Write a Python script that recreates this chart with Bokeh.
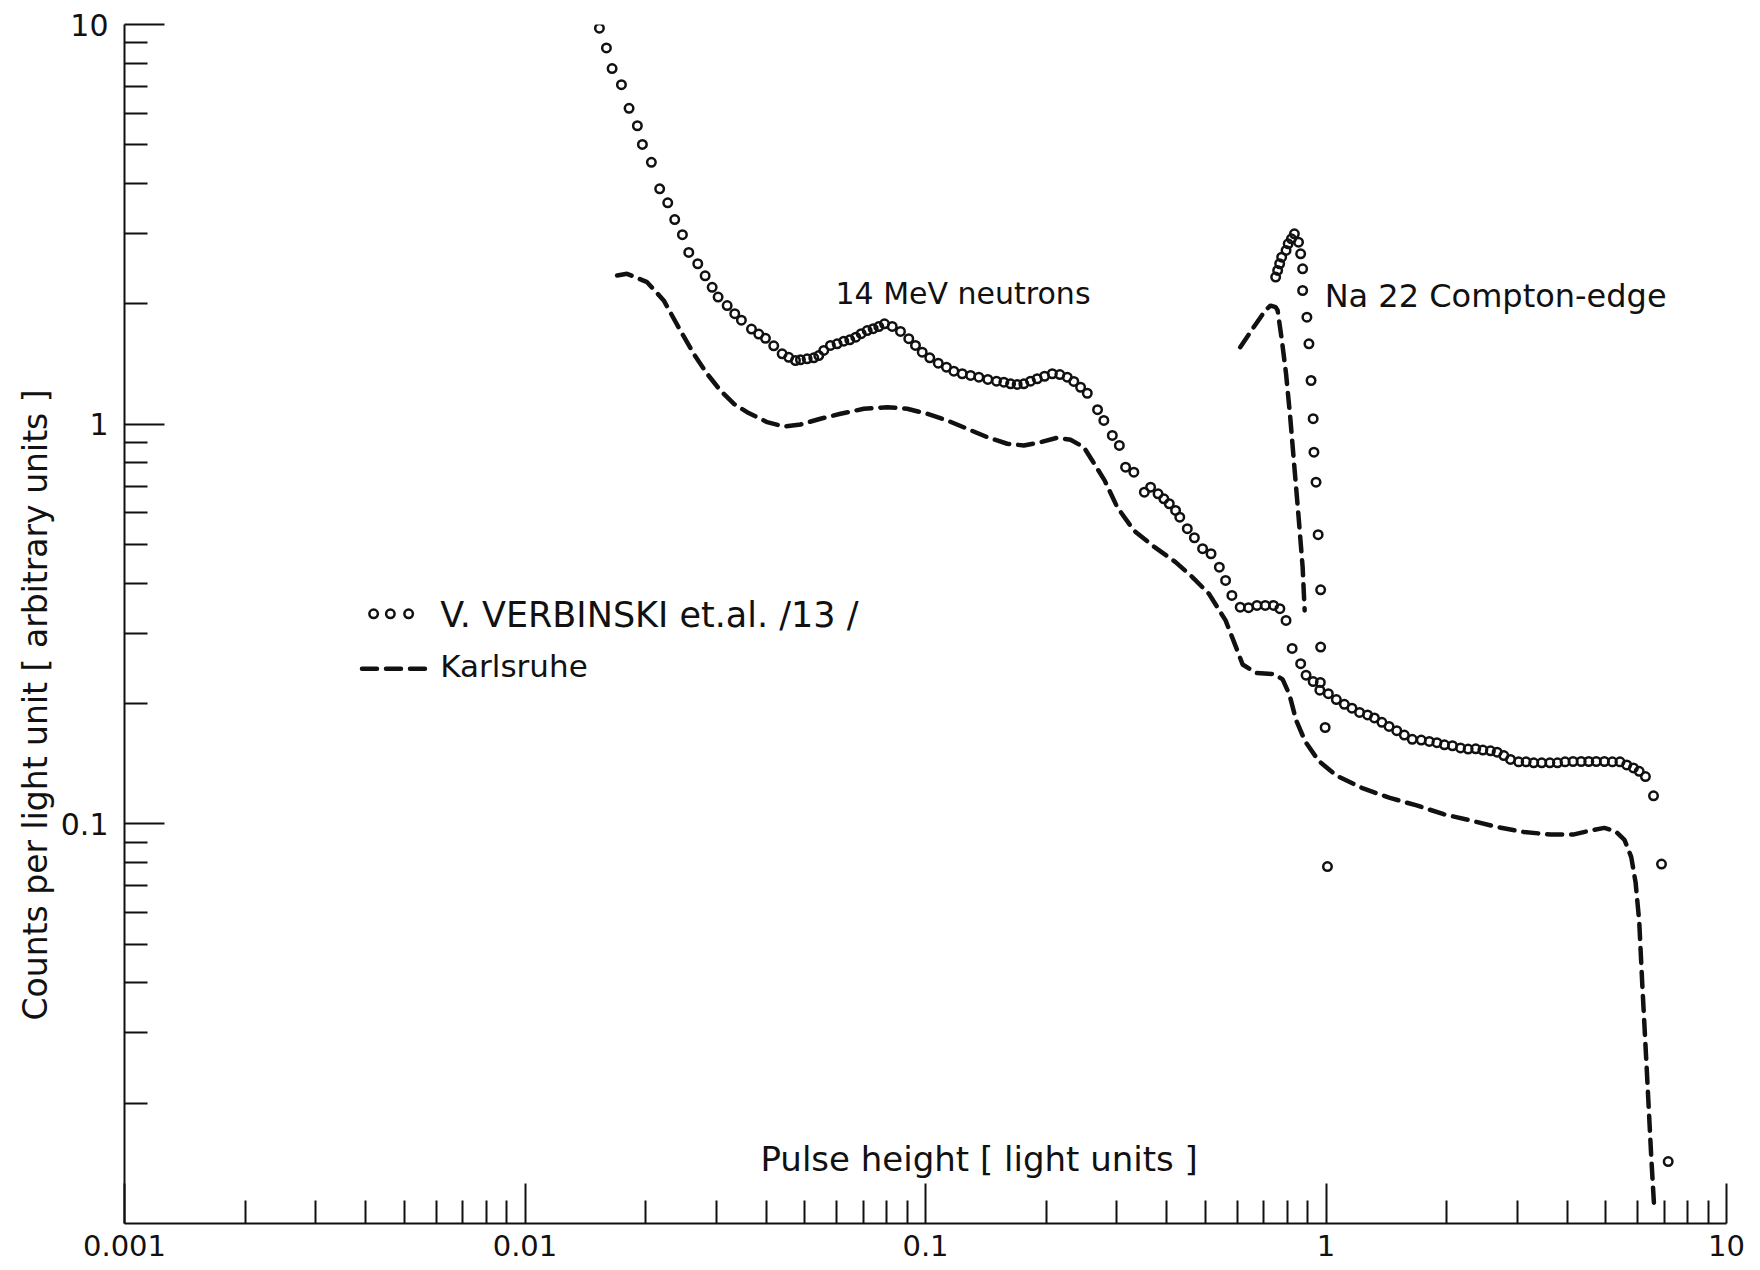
from bokeh.embed import file_html
from bokeh.models import CustomJSTickFormatter, FixedTicker, Label, Range1d, Title
from bokeh.plotting import figure
from bokeh.resources import INLINE

FONT = "DejaVu Sans"
INK = "#111111"

# V. Verbinski et al. /13/ - 14 MeV neutron pulse-height spectrum (open circles)
verb_x = [
    0.01534, 0.01597, 0.0165, 0.01741, 0.01819, 0.01908, 0.01964, 0.02068, 0.02169, 0.02272,
    0.02365, 0.02472, 0.02564, 0.0270, 0.02817, 0.02933, 0.03035, 0.03197, 0.0334, 0.0347,
    0.03677, 0.03834, 0.03985, 0.04179, 0.04386, 0.04555, 0.04735, 0.04873, 0.05064, 0.0526,
    0.05414, 0.05572, 0.05789, 0.06016, 0.0625, 0.0647, 0.06697, 0.06909, 0.07152, 0.07403,
    0.07645, 0.07899,
    0.08258, 0.0866, 0.09083, 0.09441, 0.09812, 0.1025, 0.1076, 0.1128, 0.1177, 0.1235,
    0.1296, 0.1359, 0.1431, 0.1504, 0.1569, 0.1631, 0.1694, 0.1760, 0.1829, 0.1901,
    0.1983, 0.2073, 0.2165, 0.2259, 0.2346, 0.2439, 0.2535,
    0.2689, 0.2788, 0.2927, 0.3048, 0.3159, 0.3313, 0.3519, 0.3648, 0.3808, 0.3937,
    0.4062, 0.4211, 0.4314, 0.4505, 0.4692, 0.4919, 0.5163, 0.5416, 0.5614, 0.5821,
    0.6106, 0.6406, 0.6724, 0.7052, 0.7396, 0.7670, 0.7947, 0.8232, 0.8644, 0.8917,
    0.9288, 0.9679, 0.9652,
    1.0136, 1.0613, 1.1115, 1.161, 1.213, 1.270, 1.321, 1.379, 1.437, 1.502,
    1.569, 1.642, 1.729, 1.811, 1.892, 1.976, 2.069, 2.167, 2.264, 2.365,
    2.464, 2.574, 2.675, 2.780, 2.889, 3.027, 3.160, 3.301, 3.457, 3.622,
    3.784, 3.953, 4.139, 4.336, 4.530, 4.729, 4.955, 5.188, 5.420, 5.634,
    5.856, 6.054, 6.274, 6.573, 6.882, 7.152,
]
verb_y = [
    9.79, 8.74, 7.76, 7.07, 6.17, 5.58, 5.01, 4.52, 3.88, 3.58,
    3.25, 2.98, 2.69, 2.52, 2.35, 2.20, 2.08, 1.98, 1.89, 1.82,
    1.73, 1.68, 1.64, 1.57, 1.50, 1.47, 1.443, 1.449, 1.457, 1.466,
    1.485, 1.529, 1.574, 1.589, 1.613, 1.626, 1.651, 1.684, 1.715, 1.733,
    1.755, 1.783,
    1.756, 1.706, 1.636, 1.574, 1.514, 1.466, 1.421, 1.389, 1.357, 1.337,
    1.324, 1.311, 1.294, 1.281, 1.274, 1.262, 1.257, 1.262, 1.281, 1.299,
    1.318, 1.337, 1.331, 1.311, 1.279, 1.237, 1.195,
    1.087, 1.022, 0.937, 0.8845, 0.7806, 0.7584, 0.6758, 0.6955, 0.6696, 0.6505,
    0.6322, 0.6084, 0.5853, 0.5475, 0.5198, 0.4879, 0.4740, 0.4387, 0.4064, 0.3727,
    0.3485, 0.3473, 0.3520, 0.3520, 0.3520, 0.3453, 0.3228, 0.2747, 0.2516, 0.2354,
    0.2269, 0.2258, 0.2160,
    0.2117, 0.2046, 0.1991, 0.1947, 0.1900, 0.1873, 0.1841, 0.1795, 0.1753, 0.1710,
    0.1668, 0.1627, 0.1620, 0.1608, 0.1596, 0.1577, 0.1568, 0.1549, 0.1538, 0.1541,
    0.1530, 0.1523, 0.1511, 0.1482, 0.1449, 0.1429, 0.1429, 0.1421, 0.1421, 0.1421,
    0.1421, 0.1429, 0.1432, 0.1432, 0.1432, 0.1432, 0.1432, 0.1429, 0.1429, 0.1404,
    0.1380, 0.1353, 0.1313, 0.1175, 0.0793, 0.01429,
]

# Na 22 Compton-edge calibration peak, same data set
na_x = [
    0.7487, 0.7573, 0.7661, 0.7750, 0.7948, 0.8045, 0.8198, 0.8338, 0.8539, 0.8644,
    0.8743, 0.8743, 0.8960, 0.9066, 0.9177, 0.9288, 0.9330, 0.9443, 0.9558, 0.9697,
    0.9697, 0.9951, 1.0084,
]
na_y = [
    2.333, 2.424, 2.520, 2.617, 2.720, 2.827, 2.910, 2.995, 2.854, 2.669,
    2.448, 2.160, 1.852, 1.589, 1.286, 1.032, 0.851, 0.716, 0.529, 0.385,
    0.2768, 0.1742, 0.0782,
]

# Karlsruhe measurement (dashed curve)
karl_x = [
    0.01698, 0.01798, 0.02018, 0.02220, 0.02443, 0.02638, 0.02849, 0.03075, 0.03320, 0.03586,
    0.04024, 0.04427, 0.04873, 0.05467, 0.06134, 0.07014, 0.08023, 0.0900, 0.1010, 0.1133,
    0.1271, 0.1426, 0.1600, 0.1760, 0.1938, 0.2133, 0.2302, 0.2485, 0.2608, 0.2800,
    0.3011, 0.3313, 0.3733, 0.4211, 0.4637, 0.5101, 0.5614, 0.5961, 0.6191, 0.6691,
    0.7408, 0.7793, 0.8103, 0.8421, 0.8871, 0.9581, 1.0614, 1.238, 1.444, 1.684,
    1.966, 2.293, 2.675, 3.120, 3.640, 4.139, 4.586, 4.955, 5.282, 5.562,
    5.781, 5.929, 6.054, 6.163, 6.324, 6.486, 6.607,
]
karl_y = [
    2.355, 2.378, 2.266, 2.040, 1.715, 1.500, 1.337, 1.214, 1.125, 1.0715,
    1.0115, 0.9868, 0.9983, 1.0316, 1.0617, 1.0927, 1.1028, 1.0927, 1.0617, 1.0216,
    0.9739, 0.9278, 0.8933, 0.8845, 0.9015, 0.9246, 0.9142, 0.8759, 0.8114, 0.7233,
    0.6200, 0.5421, 0.4923, 0.4517, 0.4144, 0.3763, 0.3228, 0.2768, 0.2504, 0.2384,
    0.2371, 0.2298, 0.2107, 0.1817, 0.1608, 0.1438, 0.1320, 0.1226, 0.1161, 0.1112,
    0.1057, 0.1020, 0.0982, 0.0954, 0.0940, 0.0940, 0.0963, 0.0977, 0.0958, 0.0912,
    0.0827, 0.0714, 0.0571, 0.0395, 0.0242, 0.01475, 0.01072,
]

# Karlsruhe Na 22 Compton-edge
karl_na_x = [0.6107, 0.6643, 0.7052, 0.7273, 0.7487, 0.7573, 0.7760, 0.7948, 0.8141, 0.8338,
             0.8543, 0.8743, 0.8845]
karl_na_y = [1.558, 1.766, 1.925, 1.981, 1.962, 1.925, 1.620, 1.337, 1.041, 0.7806,
             0.5853, 0.4387, 0.3420]

# axis ticks
x_major = [0.001, 0.01, 0.1, 1, 10]
x_minor = [m * d for d in (0.001, 0.01, 0.1, 1) for m in range(2, 10)]
y_major = [0.1, 1, 10]
y_minor = [m * d for d in (0.01, 0.1, 1) for m in range(2, 10)]

p = figure(
    width=1760, height=1270,
    x_axis_type="log", y_axis_type="log",
    x_range=Range1d(0.001, 10), y_range=Range1d(0.01, 10),
    output_backend="svg", toolbar_location=None,
    min_border_left=124, min_border_right=34, min_border_top=24, min_border_bottom=47,
)
p.outline_line_color = None
p.grid.visible = False
p.background_fill_color = "white"
p.border_fill_color = "white"

p.xaxis.ticker = FixedTicker(ticks=x_major, minor_ticks=x_minor)
p.yaxis.ticker = FixedTicker(ticks=y_major, minor_ticks=y_minor)
for ax in (p.xaxis[0], p.yaxis[0]):
    ax.formatter = CustomJSTickFormatter(code="return String(tick);")
    ax.axis_line_color = INK
    ax.axis_line_width = 2
    ax.major_tick_line_color = INK
    ax.major_tick_line_width = 2
    ax.minor_tick_line_color = INK
    ax.minor_tick_line_width = 2
    ax.major_tick_in = 40
    ax.major_tick_out = 0
    ax.minor_tick_in = 23
    ax.minor_tick_out = 0
    ax.major_label_text_font = FONT
    ax.major_label_text_color = INK
p.xaxis.major_label_text_font_size = "29px"
p.xaxis.major_label_standoff = 11
p.yaxis.major_label_text_font_size = "30px"
p.yaxis.major_label_standoff = 16

# vertical quantity label, set beside the y axis
p.add_layout(Title(text="Counts per light unit [ arbitrary units ]", align="left", offset=203,
                   text_font=FONT, text_font_size="33px", text_font_style="normal",
                   text_color=INK, standoff=6), "left")

dash_style = dict(line_color=INK, line_width=4.5, line_dash="15 9", line_cap="round")
circle_style = dict(marker="circle", size=8.5, line_color=INK, line_width=2.5, fill_color=None)

p.line(karl_x, karl_y, **dash_style)
p.line(karl_na_x, karl_na_y, **dash_style)
p.scatter(verb_x, verb_y, **circle_style)
p.scatter(na_x, na_y, **circle_style)

# legend keys
p.scatter([0.004188, 0.004611, 0.005122], [0.3354, 0.3354, 0.3354], **circle_style)
p.line([0.003917, 0.005692], [0.2443, 0.2443], **dash_style)


def add_text(x, y, text, size, **kw):
    p.add_layout(Label(x=x, y=y, text=text, text_font=FONT, text_font_size=size,
                       text_color=INK, text_baseline="alphabetic", **kw))


add_text(0.006145, 0.3335, "V. VERBINSKI et.al. /13 /", "35px")
add_text(0.006145, 0.2476, "Karlsruhe", "31px")
add_text(0.0596, 2.123, "14 MeV neutrons", "30px")
add_text(0.9923, 2.087, "Na 22 Compton-edge", "32px")
add_text(0.03872, 0.014496, "Pulse height [ light units ]", "34px")

open("out.html", "w").write(file_html(p, INLINE))
